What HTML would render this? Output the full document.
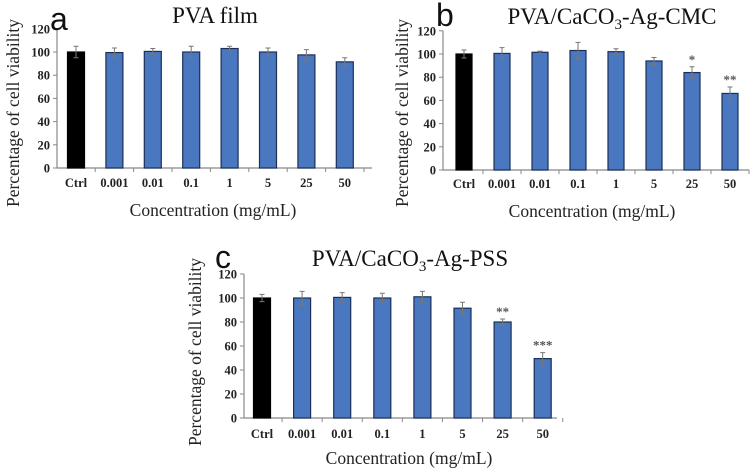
<!DOCTYPE html>
<html><head><meta charset="utf-8"><style>
html,body{margin:0;padding:0;background:#fff;width:750px;height:475px;overflow:hidden}
svg{display:block;font-family:"Liberation Serif",serif}
</style></head><body>
<svg id="fig" width="750" height="475" viewBox="0 0 750 475"></svg>
<script>
const categories = ["Ctrl","0.001","0.01","0.1","1","5","25","50"];
const yTicks = [0,20,40,60,80,100,120];
const valuesA = [100,99.5,100.5,100,103,100,97.5,91.5];
const errorsA = [5,4,2.5,5,2,3.5,4.5,3.5];
const starsA = ["","","","","","","",""];
const valuesB = [100,100.5,101.5,103,102,94,84,66];
const errorsB = [3.5,5,1,7,2.5,3,5,5.5];
const starsB = ["","","","","","","*","**"];
const valuesC = [100,100,100.5,100,101,91.5,80,49.5];
const errorsC = [3,5.5,4,4,4.5,5,2.5,5];
const starsC = ["","","","","","","**","***"];

const NS="http://www.w3.org/2000/svg";
const svg=document.getElementById('fig');
function mk(tag,attrs,parent,text){const e=document.createElementNS(NS,tag);for(const k in attrs)e.setAttribute(k,attrs[k]);if(text!==undefined)e.textContent=text;(parent||svg).appendChild(e);return e;}

function panel(cfg){
  const g=mk('g',{});
  
  
  const y=v=>cfg.y0-(v/100)*(cfg.y0-cfg.y100);
  const x=i=>cfg.c0+i*cfg.step;
  const ya=mk('line',{x1:cfg.ax,y1:y(120),x2:cfg.ax,y2:y(0),stroke:'#888','stroke-width':1.2},g);
  
  
  const xa=mk('line',{x1:cfg.ax,y1:y(0),x2:cfg.xend,y2:y(0),stroke:'#888','stroke-width':1.2},g);
  
  
  yTicks.forEach(t=>{
    mk('line',{x1:cfg.ax-4,y1:y(t),x2:cfg.ax,y2:y(t),stroke:'#888'},g);
    const tl=mk('text',{x:cfg.ax-7,y:y(t)+4.5,'text-anchor':'end','font-size':12.5,'font-weight':'bold',fill:'#222'},g,String(t));
    
    
  });
  categories.forEach((c,i)=>{
    const v=cfg.values[i],e=cfg.errors[i],cx=x(i);
    mk('line',{x1:cx+cfg.step/2,y1:y(0),x2:cx+cfg.step/2,y2:y(0)+4,stroke:'#888'},g);
    const b=mk('rect',{x:cx-cfg.bw/2,y:y(v),width:cfg.bw,height:y(0)-y(v),fill:i===0?'#000':'#4a78c0',stroke:i===0?'#000':'#1c2f55','stroke-width':1.2},g);
    
    
    const eb=mk('path',{d:`M${cx},${y(v+e)}V${y(v-e)}M${cx-2.5},${y(v+e)}H${cx+2.5}M${cx-2.5},${y(v-e)}H${cx+2.5}`,stroke:'#777',fill:'none','stroke-width':1},g);
    
    
    if(cfg.stars[i]){
      const s=mk('text',{x:cx,y:y(v+e)-3,'text-anchor':'middle','font-size':13,'font-weight':'bold',fill:'#555'},g,cfg.stars[i]);
      
      
    }
    const tl=mk('text',{x:cx,y:cfg.tickY,'text-anchor':'middle','font-size':12.5,'font-weight':'bold',fill:'#222'},g,c);
    
    
  });
  const yt=mk('text',{x:0,y:0,transform:`translate(${cfg.ytx},${cfg.yty}) rotate(-90)`,'text-anchor':'middle','font-size':17.5,fill:'#222'},g,'Percentage of cell viability');
  
  
  const xt=mk('text',{x:cfg.xtx,y:cfg.xty,'text-anchor':'middle','font-size':17.5,fill:'#222'},g,'Concentration (mg/mL)');
  
  
  const ti=mk('text',{x:cfg.tx,y:cfg.ty,'text-anchor':'middle','font-size':23,fill:'#111'},g);
  ti.innerHTML=cfg.title;
  
  
  const l=mk('text',{x:cfg.lx,y:cfg.ly,'font-size':32,'font-family':'Liberation Sans, sans-serif',fill:'#111'},g,cfg.letter);
  
  
}

panel({letter:'a',values:valuesA,errors:errorsA,stars:starsA,ax:57,xend:372,y0:168,y100:52,c0:76,step:38.4,bw:17,tickY:187,
  ytx:19,yty:113,xtx:213,xty:216,tx:215,ty:23,title:'PVA film',lx:50,ly:30});
panel({letter:'b',values:valuesB,errors:errorsB,stars:starsB,ax:443,xend:749,y0:170,y100:54,c0:464,step:38,bw:16,tickY:188,
  ytx:408,yty:113,xtx:592,xty:217,tx:612,ty:24,title:'PVA/CaCO<tspan font-size="15" dy="5">3</tspan><tspan dy="-5">-Ag-CMC</tspan>',lx:436,ly:26});
panel({letter:'c',values:valuesC,errors:errorsC,stars:starsC,ax:244,xend:557,y0:418,y100:298,c0:262,step:40.1,bw:17,tickY:438,
  ytx:201,yty:352,xtx:409,xty:464,tx:410,ty:266,title:'PVA/CaCO<tspan font-size="15" dy="5">3</tspan><tspan dy="-5">-Ag-PSS</tspan>',lx:215,ly:268});
</script>
</body></html>
